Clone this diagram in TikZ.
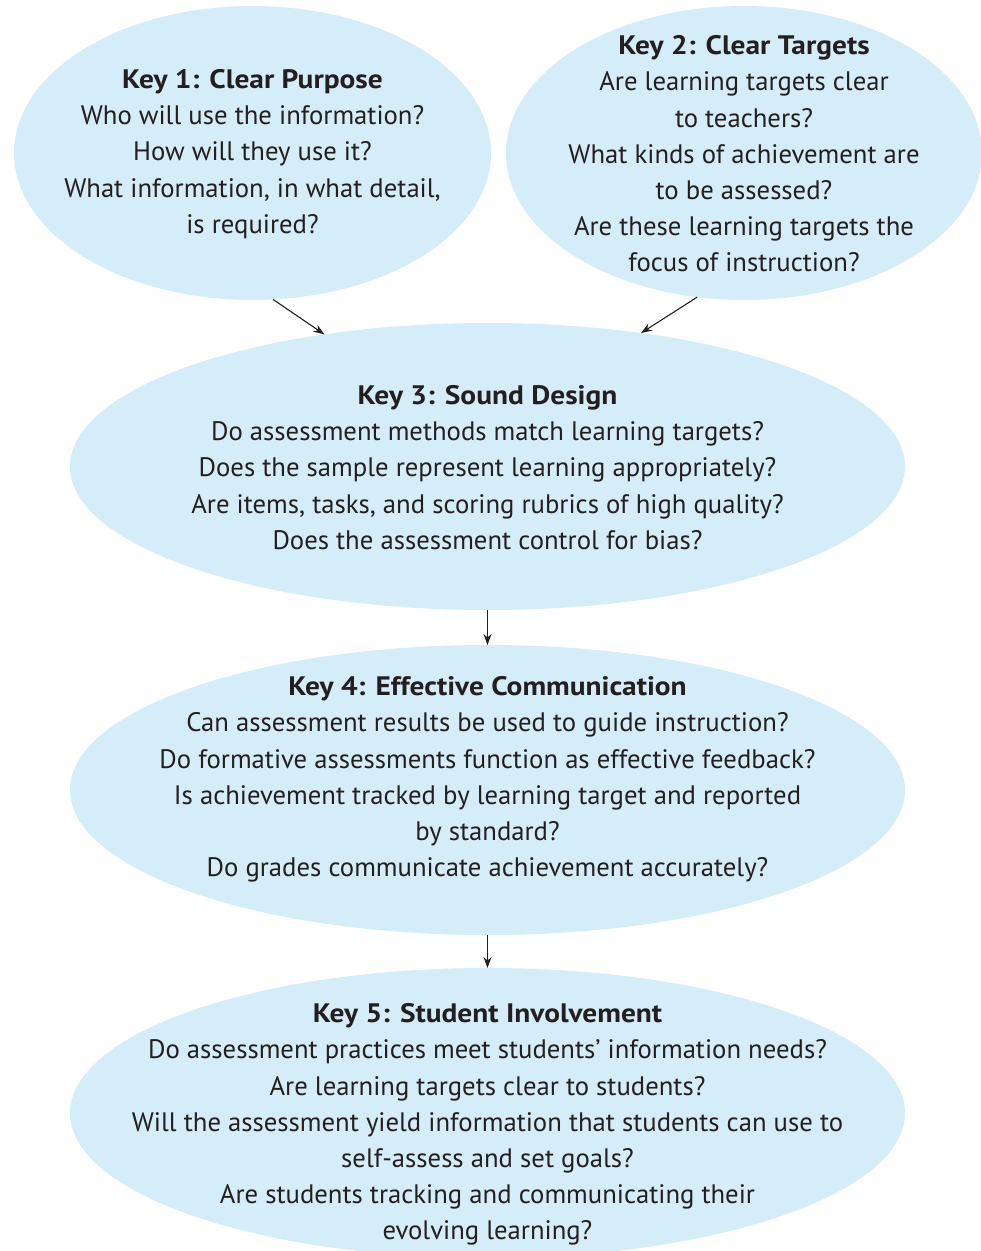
\documentclass[tikz,border=0pt]{standalone}
\usepackage{fontspec}
\setmainfont{PT Sans}[BoldFeatures={FakeStretch=1.1}]
\usetikzlibrary{shapes.geometric,arrows.meta}
\definecolor{keyblue}{RGB}{213,236,249}
\definecolor{ink}{RGB}{35,31,32}
\begin{document}
\begin{tikzpicture}[x=1pt,y=-1pt,
    key/.style={shape=ellipse,fill=keyblue,inner sep=0pt,outer sep=0pt},
    keytext/.style={align=center,text=ink,inner sep=0pt,font=\fontsize{26.7}{36.2}\selectfont},
    flow/.style={-{Stealth[length=11pt,width=8pt]},draw=ink,line width=1.1pt}]
    \useasboundingbox (0,0) rectangle (981,1251);
    \clip (0,0) rectangle (981,1251);
    % the five keys
    \node[key,minimum width=477pt,minimum height=294pt] at (252.5,153)  (k1) {};
    \node[key,minimum width=476pt,minimum height=294pt] at (744,153)    (k2) {};
    \node[key,minimum width=835pt,minimum height=287pt] at (487.5,466.5) (k3) {};
    \node[key,minimum width=835pt,minimum height=290pt] at (487.5,790)  (k4) {};
    \node[key,minimum width=835pt,minimum height=290pt] at (487.5,1113) (k5) {};

    \node[keytext] at (252.5,154) (t1) {\textbf{Key 1: Clear Purpose}\\
      Who will use the information?\\ How will they use it?\\
      What information, in what detail,\\ is required?};
    \node[keytext] at (744,154) (t2) {\textbf{Key 2: Clear Targets}\\
      Are learning targets clear\\ to teachers?\\
      What kinds of achievement are\\ to be assessed?\\
      Are these learning targets the\\ focus of instruction?};
    \node[keytext] at (487.5,467.5) (t3) {\textbf{Key 3: Sound Design}\\
      Do assessment methods match learning targets?\\
      Does the sample represent learning appropriately?\\
      Are items, tasks, and scoring rubrics of high quality?\\
      Does the assessment control for bias?};
    \node[keytext] at (487.5,779.5) (t4) {\textbf{Key 4: Effective Communication}\\
      Can assessment results be used to guide instruction?\\
      Do formative assessments function as effective feedback?\\
      Is achievement tracked by learning target and reported\\ by standard?\\
      Do grades communicate achievement accurately?};
    \node[keytext] at (487.5,1124.5) (t5) {\textbf{Key 5: Student Involvement}\\
      Do assessment practices meet students’ information needs?\\
      Are learning targets clear to students?\\
      Will the assessment yield information that students can use to\\
      self-assess and set goals?\\
      Are students tracking and communicating their\\ evolving learning?};

    \draw[flow] (k1.-82) -- (k3.141);
    \draw[flow] (k2.-108) -- (k3.41);
    \draw[flow] (k3.south) -- (k4.north);
    \draw[flow] (k4.south) -- (k5.north);
\end{tikzpicture}
\end{document}
